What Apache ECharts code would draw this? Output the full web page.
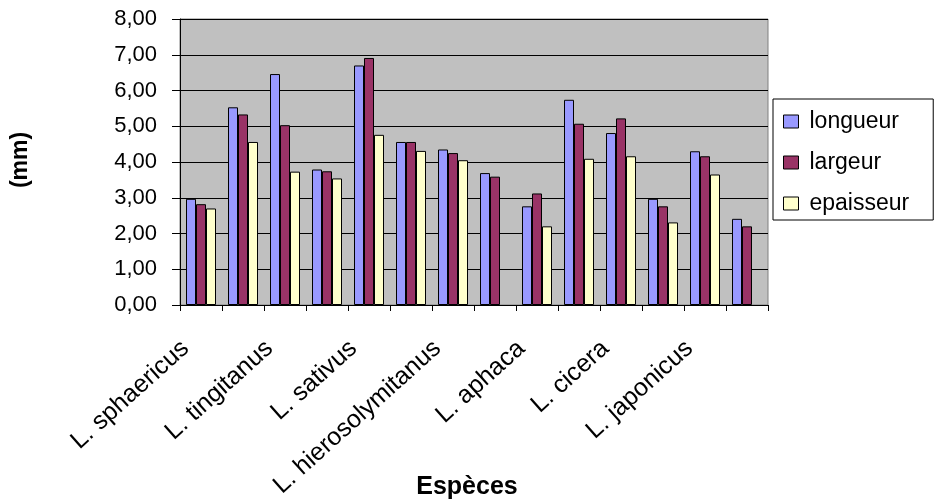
<!DOCTYPE html>
<html>
<head>
<meta charset="utf-8">
<script src="https://cdn.jsdelivr.net/npm/echarts@6/dist/echarts.min.js"></script>
<style>
  html, body { margin: 0; padding: 0; background: #ffffff; }
  #chart { width: 935px; height: 504px; }
</style>
</head>
<body>
<div id="chart"></div>
<script>
// Seed dimensions of Lathyrus species (mm); every other category carries a name
const categories = [
  'L. sphaericus', '', 'L. tingitanus', '', 'L. sativus', '',
  'L. hierosolymitanus', '', 'L. aphaca', '', 'L. cicera', '',
  'L. japonicus', ''
];
const longueur  = [2.97, 5.53, 6.46, 3.79, 6.70, 4.56, 4.35, 3.69, 2.76, 5.74, 4.81, 2.97, 4.30, 2.41];
const largeur   = [2.82, 5.33, 5.03, 3.74, 6.91, 4.56, 4.25, 3.59, 3.12, 5.07, 5.22, 2.76, 4.16, 2.20];
const epaisseur = [2.70, 4.56, 3.73, 3.54, 4.76, 4.31, 4.05, null, 2.20, 4.09, 4.16, 2.31, 3.65, null];
const yTicks = { min: 0, max: 8, step: 1 };

const FONT = '"Liberation Sans", Arial, sans-serif';

const chart = echarts.init(document.getElementById('chart'), null, { renderer: 'canvas' });

function barSeries(name, data, color) {
  return {
    name: name,
    type: 'bar',
    data: data,
    barWidth: 10,
    barGap: '0%',
    itemStyle: { color: color, borderColor: '#000000', borderWidth: 1 },
    emphasis: { disabled: true }
  };
}

chart.setOption({
  animation: false,
  backgroundColor: '#ffffff',
  grid: {
    left: 180, right: 167, top: 19, bottom: 199,
    show: true,
    backgroundColor: '#c0c0c0',
    borderColor: '#808080',
    borderWidth: 1
  },
  legend: {
    orient: 'vertical',
    left: 773, top: 99,
    padding: [11, 24, 5, 10],
    itemGap: 18,
    itemWidth: 15, itemHeight: 13,
    icon: 'rect',
    borderColor: '#000000', borderWidth: 1,
    backgroundColor: '#ffffff',
    textStyle: { fontFamily: FONT, fontSize: 23, color: '#000000', padding: [0, 0, 0, 6] },
    itemStyle: { borderColor: '#000000', borderWidth: 1 },
    data: ['longueur', 'largeur', 'epaisseur']
  },
  xAxis: {
    type: 'category',
    data: categories,
    axisLine: { lineStyle: { color: '#000000', width: 1 } },
    axisTick: { show: true, length: 6, lineStyle: { color: '#000000' } },
    axisLabel: {
      interval: 0,
      rotate: 42,
      margin: 26,
      padding: [0, 21, 0, 0],
      fontFamily: FONT, fontSize: 25, color: '#000000'
    },
    splitLine: { show: false }
  },
  yAxis: {
    type: 'value',
    min: yTicks.min, max: yTicks.max, interval: yTicks.step,
    axisLine: { show: true, lineStyle: { color: '#000000', width: 1 } },
    axisTick: { show: true, length: 8, lineStyle: { color: '#000000' } },
    axisLabel: {
      margin: 23,
      fontFamily: FONT, fontSize: 22, color: '#000000',
      formatter: v => v.toFixed(2).replace('.', ',')
    },
    splitLine: { show: true, lineStyle: { color: '#000000', width: 1 } }
  },
  graphic: [
    {
      type: 'text',
      x: 21, y: 160, rotation: Math.PI / 2,
      style: {
        text: '(mm)', fontFamily: FONT, fontSize: 23, fontWeight: 'bold',
        fill: '#000000', align: 'center', verticalAlign: 'middle'
      }
    },
    {
      type: 'text',
      x: 467, y: 487,
      style: {
        text: 'Espèces', fontFamily: FONT, fontSize: 25, fontWeight: 'bold',
        fill: '#000000', align: 'center', verticalAlign: 'middle'
      }
    }
  ],
  series: [
    barSeries('longueur', longueur, '#9999ff'),
    barSeries('largeur', largeur, '#993366'),
    barSeries('epaisseur', epaisseur, '#ffffcc')
  ]
});
</script>
</body>
</html>
